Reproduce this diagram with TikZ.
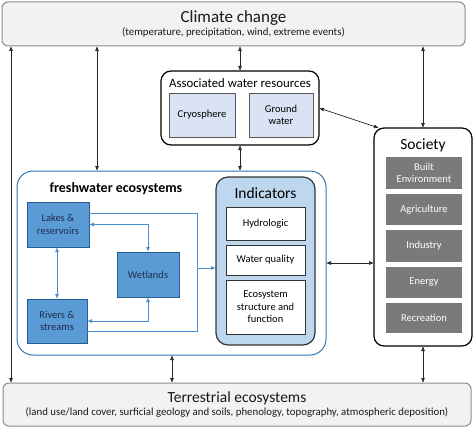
\documentclass[tikz,border=0pt]{standalone}
\usepackage{fontspec}
\setmainfont{Carlito}
\usetikzlibrary{arrows.meta}
\definecolor{climfill}{HTML}{F2F2F2}
\definecolor{climdraw}{HTML}{8C8C8C}
\definecolor{waterfill}{HTML}{DAE3F3}
\definecolor{socgray}{HTML}{7A7A7A}
\definecolor{freshblue}{HTML}{2E75B6}
\definecolor{boxblue}{HTML}{5B9BD5}
\definecolor{navy}{HTML}{1F2D50}
\definecolor{indfill}{HTML}{BDD7EE}
\definecolor{linkblue}{HTML}{4A90D0}
\begin{document}
\begin{tikzpicture}[x=1pt,y=-1pt,inner sep=0pt,outer sep=0pt,
>={Latex[length=5pt,width=4pt]},
bigbox/.style={draw=climdraw,fill=climfill,rounded corners=6pt,line width=1pt,align=center,text=black!90},
groupbox/.style={draw=black,fill=white,rounded corners=10pt,line width=1.2pt},
waterbox/.style={draw=black!65,fill=waterfill,line width=0.8pt,align=center,font=\fontsize{10.5}{12.5}\selectfont},
socbox/.style={fill=socgray,text=white,align=center,minimum width=76,font=\fontsize{10.5}{12.5}\selectfont},
ecobox/.style={draw=freshblue!80!black,fill=boxblue,line width=0.8pt,text=navy,align=center,font=\fontsize{10.5}{12.5}\selectfont},
indbox/.style={draw=black!80,fill=white,line width=1pt,align=center,minimum width=79,font=\fontsize{10.5}{12.5}\selectfont},
link/.style={<->,line width=0.7pt,black!85},
bluelink/.style={linkblue,line width=0.9pt}]
\useasboundingbox (0,0) rectangle (474,428);
% outer boxes
\draw (233.5,24) node[bigbox,minimum width=463,minimum height=44] (clim)
  {{\fontsize{17}{19}\selectfont Climate change}\\[1pt]{\fontsize{10.8}{12}\selectfont (temperature, precipitation, wind, extreme events)}};
\draw (237,404.5) node[bigbox,minimum width=468,minimum height=43] (terr)
  {{\fontsize{15.5}{17}\selectfont Terrestrial ecosystems}\\[1pt]{\fontsize{10.8}{12}\selectfont (land use/land cover, surficial geology and soils, phenology, topography, atmospheric deposition)}};
% associated water resources
\draw (240,108) node[groupbox,minimum width=158,minimum height=74] (assoc) {};
\draw (240,83) node[font=\fontsize{12.8}{15}\selectfont] (assoct) {Associated water resources};
\draw (202,115) node[waterbox,minimum width=66,minimum height=44] (cryo) {Cryosphere};
\draw (281,115) node[waterbox,minimum width=64,minimum height=44] (ground) {Ground\\water};
% society
\draw (423,237) node[groupbox,minimum width=98,minimum height=218] (soc) {};
\draw (423,145) node[font=\fontsize{15.5}{18}\selectfont] (soct) {Society};
\draw (424,173) node[socbox,minimum height=32] (built) {Built\\Environment};
\draw (424,209.5) node[socbox,minimum height=31] (agri) {Agriculture};
\draw (424,246) node[socbox,minimum height=32] (indus) {Industry};
\draw (424,282.5) node[socbox,minimum height=31] (energy) {Energy};
\draw (424,318) node[socbox,minimum height=30] (recr) {Recreation};
% freshwater ecosystems
\draw (171.5,263) node[draw=freshblue,line width=1pt,rounded corners=16pt,fill=white,minimum width=309,minimum height=184] (fresh) {};
\draw (116,189) node[font=\fontsize{14}{17}\selectfont\bfseries] (fresht) {freshwater ecosystems};
\draw (58,224.5) node[ecobox,minimum width=62,minimum height=45] (lakes) {Lakes \&\\reservoirs};
\draw (57,321) node[ecobox,minimum width=60,minimum height=44] (rivers) {Rivers \&\\streams};
\draw (148,274.5) node[ecobox,minimum width=62,minimum height=45] (wet) {Wetlands};
% indicators
\draw (265.5,261) node[draw=black!80,fill=indfill,line width=1.2pt,rounded corners=12pt,minimum width=99,minimum height=168] (ind) {};
\draw (265.5,193) node[font=\fontsize{15.5}{18}\selectfont] (indt) {Indicators};
\draw (265.5,223.5) node[indbox,minimum height=33] (hydro) {Hydrologic};
\draw (265.5,260) node[indbox,minimum height=30] (wq) {Water quality};
\draw (265.5,307) node[indbox,minimum height=54] (eco) {Ecosystem\\structure and\\function};
% black links
\draw[link] (11,0 |- clim.south) -- (11,0 |- terr.north);
\draw[link] (97,0 |- clim.south) -- (97,0 |- fresh.north);
\draw[link] (clim.south -| assoc.north) -- (assoc.north);
\draw[link] (clim.south -| soc.north) -- (soc.north);
\draw[link] (assoc.east) -- (soc.112);
\draw[link] (assoc.south) -- (assoc.south |- fresh.north);
\draw[link] (fresh.east) -- (fresh.east -| soc.west);
\draw[link] (soc.south) -- (soc.south |- terr.north);
\draw[link] (172,0 |- fresh.south) -- (172,0 |- terr.north);
% blue links
\draw[bluelink,<->] (lakes.south -| 57,0) -- (57,0 |- rivers.north);
\draw[bluelink,<->] (lakes.east) -| (wet.north);
\draw[bluelink,<->] (rivers.east) -| (wet.south);
\draw[bluelink] (lakes.east |- 0,213) -| (197,331) -- (rivers.east |- 0,331);
\coordinate (join) at (197,268);
\draw[bluelink,->] (join) -- (join -| ind.west);
\end{tikzpicture}
\end{document}
